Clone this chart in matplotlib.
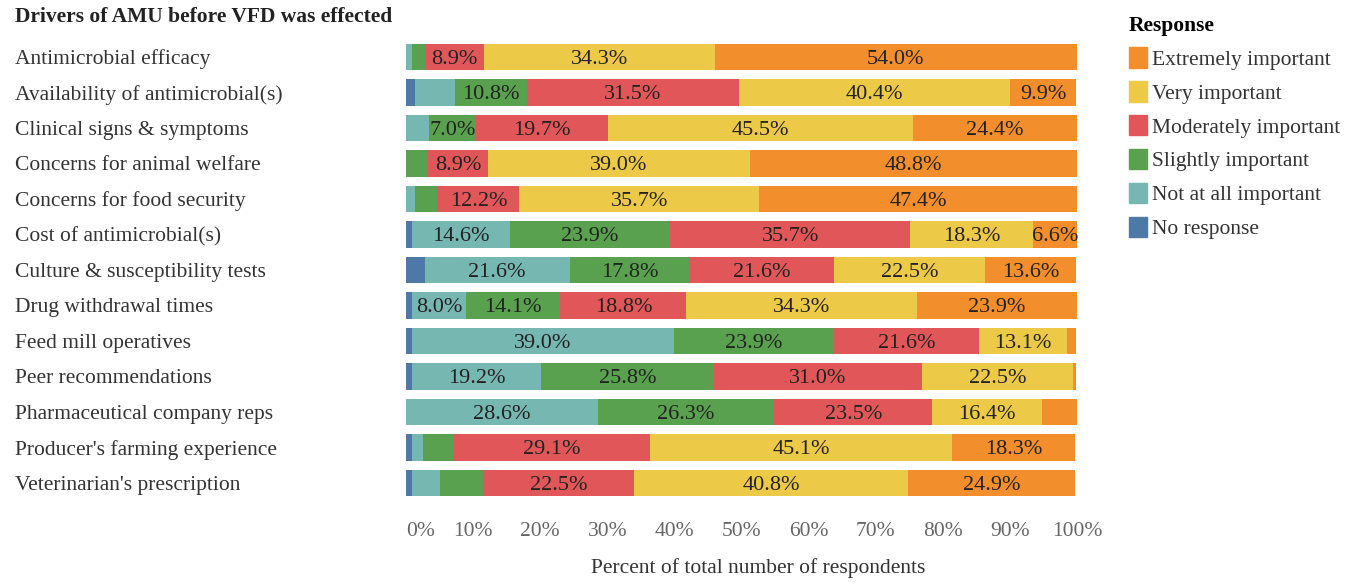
import numpy as np
import matplotlib.pyplot as plt
from matplotlib.patches import Patch

plt.rcParams['font.family'] = ['Liberation Serif', 'DejaVu Serif']

drivers = [
    'Antimicrobial efficacy',
    'Availability of antimicrobial(s)',
    'Clinical signs & symptoms',
    'Concerns for animal welfare',
    'Concerns for food security',
    'Cost of antimicrobial(s)',
    'Culture & susceptibility tests',
    'Drug withdrawal times',
    'Feed mill operatives',
    'Peer recommendations',
    'Pharmaceutical company reps',
    "Producer's farming experience",
    "Veterinarian's prescription",
]

# percent of respondents per response level, one value per driver
no_response = [0.0, 1.4, 0.0, 0.0, 0.0, 0.9, 2.8, 0.9, 0.9, 0.9, 0.0, 0.9, 0.9]
not_at_all = [0.9, 5.9, 3.4, 0.0, 1.4, 14.6, 21.6, 8.0, 39.0, 19.2, 28.6, 1.7, 4.2]
slightly = [1.9, 10.8, 7.0, 3.3, 3.3, 23.9, 17.8, 14.1, 23.9, 25.8, 26.3, 4.6, 6.4]
moderately = [8.9, 31.5, 19.7, 8.9, 12.2, 35.7, 21.6, 18.8, 21.6, 31.0, 23.5, 29.1, 22.5]
very = [34.3, 40.4, 45.5, 39.0, 35.7, 18.3, 22.5, 34.3, 13.1, 22.5, 16.4, 45.1, 40.8]
extremely = [54.0, 9.9, 24.4, 48.8, 47.4, 6.6, 13.6, 23.9, 1.4, 0.4, 5.2, 18.3, 24.9]

levels = ['No response', 'Not at all important', 'Slightly important',
          'Moderately important', 'Very important', 'Extremely important']
colors = ['#4e79a7', '#76b7b2', '#59a14f', '#e15759', '#edc948', '#f28e2b']
series = [no_response, not_at_all, slightly, moderately, very, extremely]

FS = 15.5

fig = plt.figure(figsize=(13.5, 5.84), dpi=100)
ax = fig.add_axes([0.3007, 0.1426, 0.4971, 0.7902])

y = np.arange(len(drivers))
left = np.zeros(len(drivers))
for vals, col, name in zip(series, colors, levels):
    vals = np.array(vals)
    ax.barh(y, vals, left=left, height=0.74, color=col, label=name)
    for yi, v, l in zip(y, vals, left):
        if v >= 6.5:
            ax.text(l + v / 2, yi, f'{v:.1f}%', ha='center',
                    va='center_baseline', fontsize=16, color='#222222')
    left = left + vals

ax.set_xlim(0, 100)
ax.set_ylim(len(drivers) - 0.5, -0.5)
for s in ax.spines.values():
    s.set_visible(False)

ax.set_yticks(y)
ax.set_yticklabels(drivers, fontsize=FS, color='#333333')
ax.tick_params(axis='y', length=0, pad=281.5)
for t in ax.get_yticklabels():
    t.set_horizontalalignment('left')

xt = np.arange(0, 101, 10)
ax.set_xticks(xt)
ax.set_xticklabels([f'{v}%' for v in xt], fontsize=FS, color='#666666')
ax.tick_params(axis='x', length=0, pad=15)
ax.get_xticklabels()[0].set_horizontalalignment('left')

ax.set_xlabel('Percent of total number of respondents', fontsize=FS,
              color='#333333')
ax.xaxis.set_label_coords(0.525, -0.125)

fig.text(15 / 1350, 1 - 17 / 584, 'Drivers of AMU before VFD was effected',
         fontsize=FS, fontweight='bold', color='#222222', va='center')

handles = [Patch(color=c, label=n) for c, n in zip(colors[::-1], levels[::-1])]
leg = fig.legend(handles=handles, loc='upper left',
                 bbox_to_anchor=(1129 / 1350, 1 - 16 / 584), frameon=False,
                 title='Response', fontsize=FS, alignment='left',
                 handlelength=0.84, handleheight=1.07, handletextpad=0.25,
                 labelspacing=0.53, borderpad=0, borderaxespad=0)
leg.get_title().set_fontweight('bold')
leg.get_title().set_fontsize(FS)
for t in leg.get_texts():
    t.set_color('#333333')

fig.savefig('out.png', dpi=100)
